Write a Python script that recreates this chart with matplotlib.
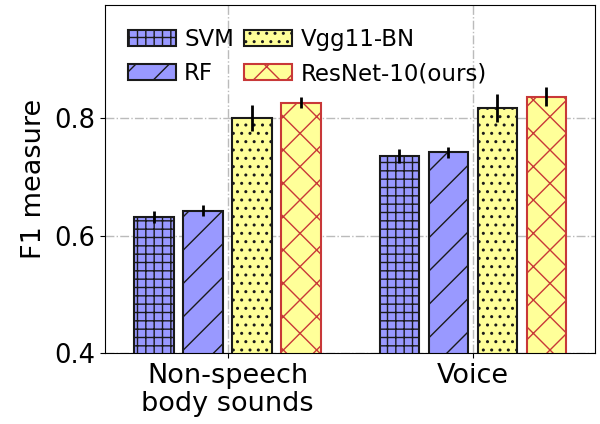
import numpy as np
import matplotlib
matplotlib.use("Agg")
import matplotlib.pyplot as plt

# F1 scores per sound category and method
categories = ["Non-speech\nbody sounds", "Voice"]
methods = ["SVM", "RF", "Vgg11-BN", "ResNet-10(ours)"]
svm_f1 = [0.632, 0.736]
rf_f1 = [0.643, 0.742]
vgg_f1 = [0.800, 0.817]
resnet_f1 = [0.827, 0.837]
svm_err = [0.010, 0.012]
rf_err = [0.010, 0.010]
vgg_err = [0.022, 0.024]
resnet_err = [0.010, 0.016]

series = [svm_f1, rf_f1, vgg_f1, resnet_f1]
errors = [svm_err, rf_err, vgg_err, resnet_err]
faces = ["#9999ff", "#9999ff", "#ffff99", "#ffff99"]
edges = ["#1a1a1a", "#1a1a1a", "#1a1a1a", "#c83838"]
hatches = ["++", "/", "..", "x"]

plt.rcParams["hatch.linewidth"] = 1.0

fig = plt.figure(figsize=(6.0, 4.24), dpi=100)
ax = fig.add_axes([0.175, 0.167, 0.817, 0.821])

x = np.arange(len(categories))
width = 0.16
offsets = [-0.3, -0.1, 0.1, 0.3]
for vals, errs, fc, ec, h, name, off in zip(series, errors, faces, edges, hatches, methods, offsets):
    ax.bar(x + off, vals, width, yerr=errs, color=fc, edgecolor=ec, hatch=h,
           linewidth=1.5, label=name,
           error_kw=dict(ecolor="black", elinewidth=2, capsize=0))

ax.set_xlim(-0.5, 1.5)
ax.set_ylim(0.4, 0.993)
ax.set_xticks(x)
ax.set_xticklabels(categories, fontsize=19.5, linespacing=1.1)
ax.set_yticks([0.4, 0.6, 0.8])
ax.set_yticklabels(["0.4", "0.6", "0.8"], fontsize=18.5)
ax.set_ylabel("F1 measure", fontsize=19.5, labelpad=5)

ax.set_axisbelow(True)
ax.grid(True, color="#bbbbbb", linestyle="-.", linewidth=1.0)

ax.legend(ncol=2, frameon=False, fontsize=16.5, loc="upper left",
          handlelength=2.1, handletextpad=0.35, columnspacing=0.45,
          labelspacing=0.5, borderaxespad=0.6)

fig.savefig("out.png", dpi=100)
